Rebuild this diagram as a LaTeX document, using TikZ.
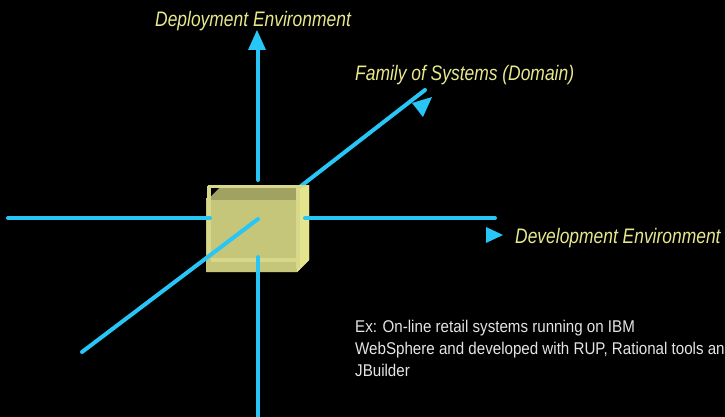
\documentclass[tikz,border=0pt]{standalone}
\usepackage{fontspec}
\setmainfont[FakeStretch=0.83]{Liberation Sans}
\newfontfamily\notefont[FakeStretch=0.89]{Liberation Sans}
\begin{document}
\begin{tikzpicture}[x=1pt,y=-1pt,
  axis/.style={draw=axisblue,line width=4pt,line cap=round},
  tip/.style={fill=axisblue},
  axlabel/.style={text=labelyellow,font=\fontsize{21}{25}\selectfont\itshape,inner sep=0pt,anchor=base west},
  note/.style={text=notegray,font=\notefont\fontsize{17}{22}\selectfont,inner sep=0pt,anchor=base west,align=left}]
\definecolor{axisblue}{RGB}{40,198,246}
\definecolor{labelyellow}{RGB}{232,232,140}
\definecolor{notegray}{RGB}{228,228,228}
\definecolor{frontcol}{RGB}{198,198,123}
\definecolor{darkcol}{RGB}{161,161,98}
\definecolor{rimcol}{RGB}{216,216,138}
\definecolor{sidecol}{RGB}{228,228,140}
\fill[black] (0,0) rectangle (725,417);
\useasboundingbox (0,0) rectangle (725,417);

% end points of the three axes
\coordinate (vtop) at (258,50);
\coordinate (vmid) at (258,180);
\coordinate (vlow) at (258,257);
\coordinate (vbot) at (258,420);
\coordinate (hleft) at (8,218);
\coordinate (hin) at (210,218);
\coordinate (hout) at (305,218);
\coordinate (hright) at (495,218);
\coordinate (dlow) at (82,352);
\coordinate (dmid) at (258,219);
\coordinate (dup) at (301,186);
\coordinate (dtop) at (425,90);

% axes behind the box
\draw[axis] (vtop) -- (vmid);
\draw[axis] (dup) -- (dtop);
\fill[tip] (257,30) -- (266,50) -- (248,50) -- cycle;
\fill[tip] (432,97) -- (423,117) -- (412,103) -- cycle;
\fill[tip] (503,235) -- (486,243) -- (486,227) -- cycle;

% the box
\fill[rimcol] (208,185) -- (309,185) -- (309,260) -- (297,272) -- (206,272) -- (206,198) -- (208,198) -- cycle;
\fill[frontcol] (206,200) rectangle (297,272);
\fill[rimcol] (207,186) rectangle (211,258);
\fill[darkcol] (211,188) rectangle (296,200);
\fill[black] (211,188) -- (219,188) -- (211,196) -- cycle;
\fill[rimcol] (211,258) rectangle (300,262);
\fill[rimcol] (296,188) rectangle (300,268);
\fill[sidecol] (300,189) -- (309,185) -- (309,260) -- (297,272) -- (297,268) -- (300,268) -- cycle;

% axes in front of the box
\draw[axis] (hleft) -- (hin);
\draw[axis] (hout) -- (hright);
\draw[axis] (dlow) -- (dmid);
\draw[axis] (vlow) -- (vbot);

% labels
\node[axlabel] (deploy) at (155,27) {Deployment Environment};
\node[axlabel] (family) at (355,81) {Family of Systems (Domain)};
\node[axlabel] (develop) at (515,243) {Development Environment};
\node[note] (example) at (355,376) {Ex: On-line retail systems running on IBM\\WebSphere and developed with RUP, Rational tools and\\JBuilder};
\end{tikzpicture}
\end{document}
